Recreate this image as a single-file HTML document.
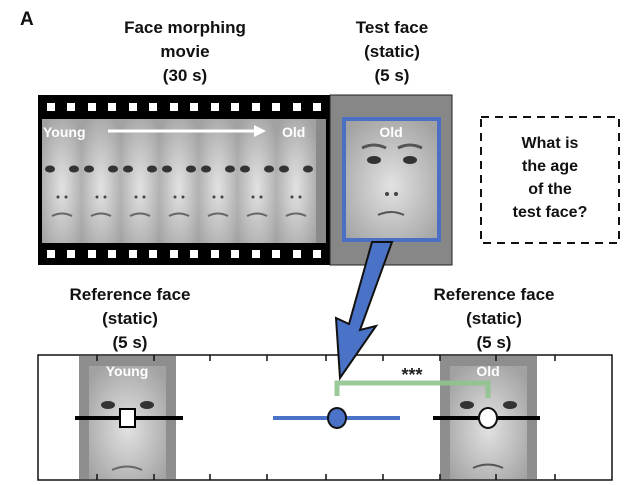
<!DOCTYPE html>
<html><head><style>
body{margin:0;width:640px;height:485px;background:#fff;overflow:hidden;position:relative;font-family:"Liberation Sans",sans-serif}
.t{position:absolute;font-weight:bold;font-size:17px;text-align:center;line-height:24px;color:#111}
</style></head><body>
<div class="t" style="left:20px;top:8px;font-size:19px">A</div>
<div class="t" style="left:95px;top:16px;width:180px">Face morphing<br>movie<br>(30 s)</div>
<div class="t" style="left:332px;top:16px;width:120px">Test face<br>(static)<br>(5 s)</div>
<div class="t" style="left:40px;top:283px;width:180px">Reference face<br>(static)<br>(5 s)</div>
<div class="t" style="left:404px;top:283px;width:180px">Reference face<br>(static)<br>(5 s)</div>
<svg width="640" height="485" style="position:absolute;left:0;top:0">
<defs>
<radialGradient id="fg" cx="50%" cy="55%" r="65%"><stop offset="0" stop-color="#e2e2e2"/><stop offset="1" stop-color="#a2a2a2"/></radialGradient>
<g id="face"><rect x="-20" y="0" width="40" height="124" fill="url(#fg)"/>
<ellipse cx="-12" cy="50" rx="5" ry="3.5" fill="#333"/><ellipse cx="12" cy="50" rx="5" ry="3.5" fill="#333"/>
<circle cx="-4" cy="78" r="1.5" fill="#444"/><circle cx="4" cy="78" r="1.5" fill="#444"/>
<path d="M-10 97 Q0 92 10 97" stroke="#666" stroke-width="2" fill="none"/></g>
</defs>
<rect x="38" y="95" width="292" height="170" fill="#000"/>
<rect x="330" y="95" width="122" height="170" fill="#878787" stroke="#222" stroke-width="1"/>
<rect x="44" y="119" width="282" height="124" fill="#8a8a8a"/>
<g>
<use href="#face" x="62" y="119"/><use href="#face" x="101" y="119"/><use href="#face" x="140" y="119"/><use href="#face" x="179" y="119"/><use href="#face" x="218" y="119"/><use href="#face" x="257" y="119"/><use href="#face" x="296" y="119"/>
</g>
<g fill="#fff">
<rect x="47" y="103" width="8" height="8"/><rect x="67" y="103" width="8" height="8"/><rect x="88" y="103" width="8" height="8"/><rect x="108" y="103" width="8" height="8"/><rect x="129" y="103" width="8" height="8"/><rect x="149" y="103" width="8" height="8"/><rect x="170" y="103" width="8" height="8"/><rect x="190" y="103" width="8" height="8"/><rect x="211" y="103" width="8" height="8"/><rect x="231" y="103" width="8" height="8"/><rect x="252" y="103" width="8" height="8"/><rect x="272" y="103" width="8" height="8"/><rect x="293" y="103" width="8" height="8"/><rect x="313" y="103" width="8" height="8"/>
<rect x="47" y="250" width="8" height="8"/><rect x="67" y="250" width="8" height="8"/><rect x="88" y="250" width="8" height="8"/><rect x="108" y="250" width="8" height="8"/><rect x="129" y="250" width="8" height="8"/><rect x="149" y="250" width="8" height="8"/><rect x="170" y="250" width="8" height="8"/><rect x="190" y="250" width="8" height="8"/><rect x="211" y="250" width="8" height="8"/><rect x="231" y="250" width="8" height="8"/><rect x="252" y="250" width="8" height="8"/><rect x="272" y="250" width="8" height="8"/><rect x="293" y="250" width="8" height="8"/><rect x="313" y="250" width="8" height="8"/>
</g>
<text x="43" y="137" fill="#fff" font-weight="bold" font-size="14" font-family="Liberation Sans">Young</text>
<line x1="108" y1="131" x2="256" y2="131" stroke="#fff" stroke-width="3"/>
<polygon points="254,125 266,131 254,137" fill="#fff"/>
<text x="282" y="137" fill="#fff" font-weight="bold" font-size="14" font-family="Liberation Sans">Old</text>
<rect x="344" y="119" width="95" height="121" fill="url(#fg)" stroke="#4a6fc4" stroke-width="4"/>
<ellipse cx="374" cy="160" rx="7" ry="4" fill="#333"/><ellipse cx="410" cy="160" rx="7" ry="4" fill="#333"/>
<path d="M362 148 Q374 142 386 148 M398 148 Q410 142 422 148" stroke="#555" stroke-width="3" fill="none"/>
<circle cx="387" cy="194" r="2" fill="#444"/><circle cx="396" cy="194" r="2" fill="#444"/>
<path d="M378 215 Q391 209 404 215" stroke="#555" stroke-width="2" fill="none"/>
<text x="391" y="137" fill="#fff" font-weight="bold" font-size="14" text-anchor="middle" font-family="Liberation Sans">Old</text>
<rect x="481" y="117" width="138" height="126" fill="#fff" stroke="#111" stroke-width="2" stroke-dasharray="8,6"/>
<text font-weight="bold" font-size="16" text-anchor="middle" font-family="Liberation Sans" fill="#111">
<tspan x="550" y="148">What is</tspan><tspan x="550" y="171">the age</tspan><tspan x="550" y="194">of the</tspan><tspan x="550" y="217">test face?</tspan></text>
<rect x="38" y="355" width="574" height="125" fill="#fff" stroke="#111" stroke-width="1.5"/>
<rect x="79" y="356" width="97" height="123" fill="#8e8e8e"/>
<rect x="89" y="366" width="77" height="113" fill="url(#fg)"/>
<ellipse cx="108" cy="405" rx="7" ry="4" fill="#333"/><ellipse cx="147" cy="405" rx="7" ry="4" fill="#333"/>
<path d="M112 470 Q127 463 142 470" stroke="#666" stroke-width="2" fill="none"/>
<rect x="440" y="356" width="97" height="123" fill="#8e8e8e"/>
<rect x="450" y="366" width="77" height="113" fill="url(#fg)"/>
<ellipse cx="467" cy="405" rx="7" ry="4" fill="#333"/><ellipse cx="510" cy="405" rx="7" ry="4" fill="#333"/>
<path d="M473 468 Q488 461 503 468" stroke="#555" stroke-width="2" fill="none"/>
<text x="127" y="376" fill="#fff" font-weight="bold" font-size="14" text-anchor="middle" font-family="Liberation Sans">Young</text>
<text x="488" y="376" fill="#fff" font-weight="bold" font-size="14" text-anchor="middle" font-family="Liberation Sans">Old</text>
<g stroke="#111" stroke-width="1.5">
<line x1="97" y1="480" x2="97" y2="474"/><line x1="154" y1="480" x2="154" y2="474"/><line x1="210" y1="480" x2="210" y2="474"/><line x1="267" y1="480" x2="267" y2="474"/><line x1="326" y1="480" x2="326" y2="474"/><line x1="383" y1="480" x2="383" y2="474"/><line x1="440" y1="480" x2="440" y2="474"/><line x1="496" y1="480" x2="496" y2="474"/><line x1="555" y1="480" x2="555" y2="474"/>
<line x1="97" y1="355" x2="97" y2="361"/><line x1="154" y1="355" x2="154" y2="361"/><line x1="210" y1="355" x2="210" y2="361"/><line x1="267" y1="355" x2="267" y2="361"/><line x1="326" y1="355" x2="326" y2="361"/><line x1="383" y1="355" x2="383" y2="361"/><line x1="440" y1="355" x2="440" y2="361"/><line x1="496" y1="355" x2="496" y2="361"/><line x1="555" y1="355" x2="555" y2="361"/>
</g>
<path d="M337 396 V383 H488 V398" stroke="#8fc48f" stroke-width="5" fill="none" opacity="0.9"/>
<text x="412" y="381" font-weight="bold" font-size="18" text-anchor="middle" font-family="Liberation Sans" fill="#222">***</text>
<line x1="75" y1="418" x2="183" y2="418" stroke="#000" stroke-width="4"/>
<rect x="120" y="409" width="15" height="18" fill="#fff" stroke="#000" stroke-width="2"/>
<line x1="273" y1="418" x2="400" y2="418" stroke="#4a72c6" stroke-width="4"/>
<ellipse cx="337" cy="418" rx="9" ry="10" fill="#4a72c6" stroke="#111" stroke-width="2"/>
<line x1="433" y1="418" x2="540" y2="418" stroke="#000" stroke-width="4"/>
<ellipse cx="488" cy="418" rx="9" ry="10" fill="#fff" stroke="#111" stroke-width="2"/>
<polygon points="372,242 392,242 360,330 376,326 340,378 336,318 349,324" fill="#4a72c6" stroke="#111" stroke-width="2" stroke-linejoin="miter"/>
</svg>
</body></html>
